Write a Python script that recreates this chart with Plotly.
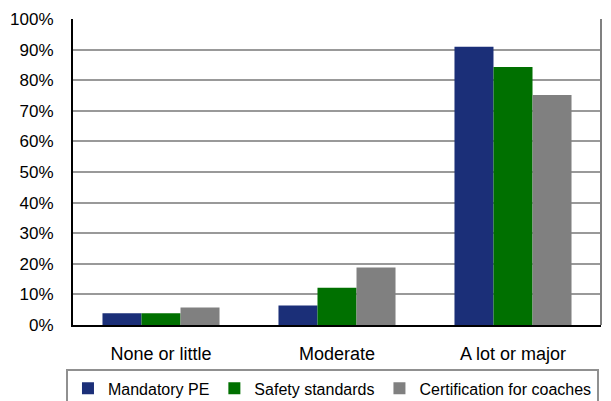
import plotly.graph_objects as go

categories = ["None or little", "Moderate", "A lot or major"]
series_names = ["Mandatory PE", "Safety standards", "Certification for coaches"]
mandatory_pe = [0.038, 0.064, 0.909]
safety_standards = [0.038, 0.122, 0.843]
certification = [0.057, 0.188, 0.752]
colors = ["#1B2F78", "#007000", "#808080"]
y_ticks = [i / 10 for i in range(11)]

fig = go.Figure()
for name, vals, col in zip(series_names, [mandatory_pe, safety_standards, certification], colors):
    fig.add_trace(go.Bar(x=categories, y=vals, name=name, marker=dict(color=col, line=dict(width=0))))

family = "Arial, Liberation Sans, sans-serif"
font = dict(family=family, size=17, color="#000000")
fig.update_layout(
    width=611, height=401,
    margin=dict(l=73, r=10, t=19, b=76, autoexpand=False),
    barmode="group", bargap=0.335, bargroupgap=0,
    plot_bgcolor="white", paper_bgcolor="white",
    font=font,
    showlegend=True,
    legend=dict(orientation="h", x=-0.0133, xanchor="left", y=-0.145, yanchor="top",
                bordercolor="#909090", borderwidth=2,
                font=dict(family=family, size=16, color="#000000"),
                itemwidth=30, tracegroupgap=0),
    xaxis=dict(showline=True, linecolor="#000000", linewidth=2, showgrid=False,
               ticks="", ticklabelstandoff=11,
               tickfont=dict(family=family, size=18, color="#000000"), fixedrange=True),
    yaxis=dict(range=[0, 1], tickvals=y_ticks, tickformat=".0%", showgrid=True,
               gridcolor="#999999", gridwidth=2, showline=True, linecolor="#000000",
               linewidth=2, ticks="", ticklabelstandoff=14, tickfont=font, zeroline=False),
)
fig.add_shape(type="line", xref="paper", yref="paper", x0=1, x1=1, y0=0, y1=1,
              line=dict(color="#808080", width=2))
fig.write_html("out.html")
